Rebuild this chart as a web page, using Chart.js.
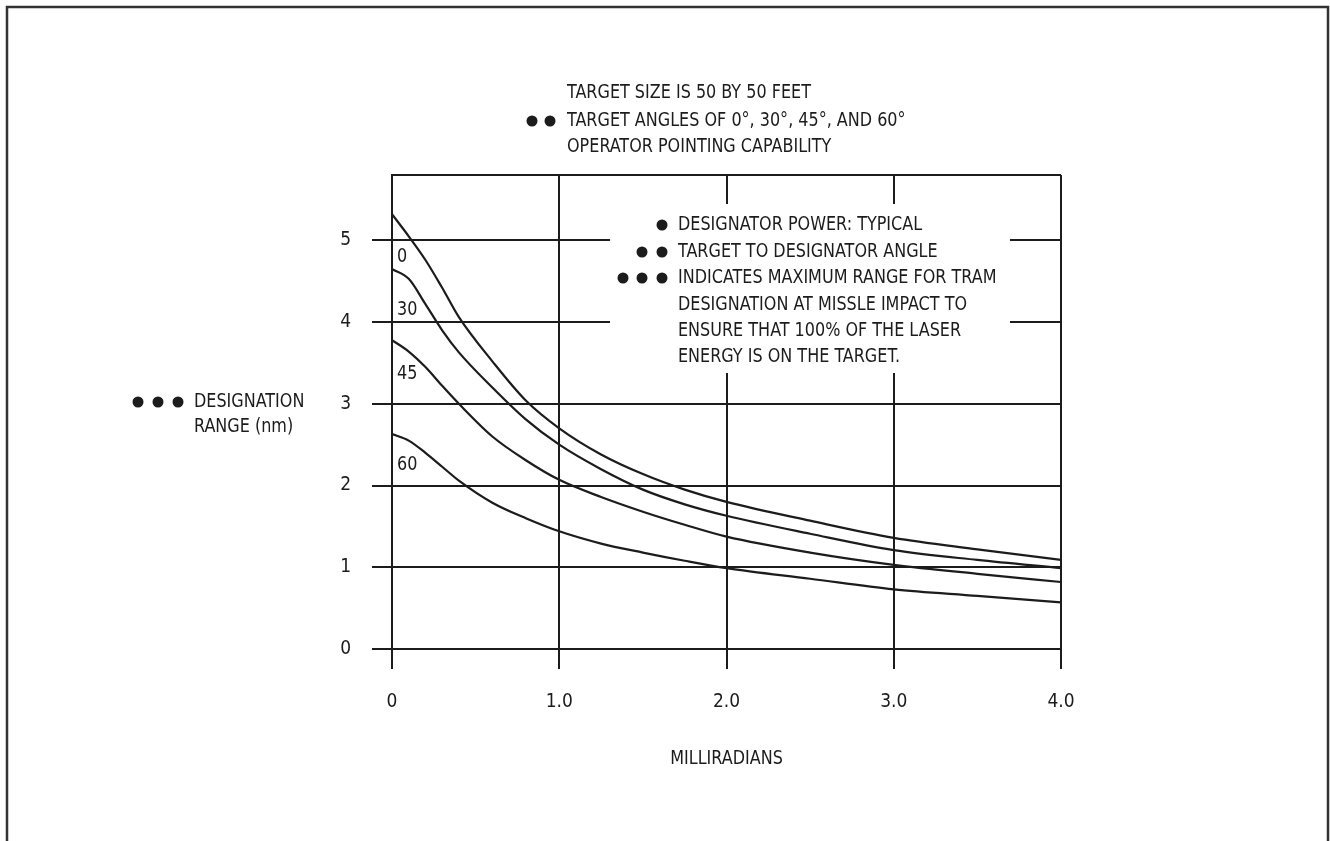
<!DOCTYPE html>
<html>
<head>
<meta charset="utf-8">
<title>Designation range vs milliradians</title>
<script src="https://cdn.jsdelivr.net/npm/chart.js@4.4.1/dist/chart.umd.min.js"></script>
<style>
  html, body { margin: 0; padding: 0; background: #fff; }
  canvas { display: block; }
</style>
</head>
<body>
<canvas id="chartRange" width="1330" height="841"></canvas>
<script>
// milliradians (x) and designation range in nm for each target angle
const milliradians = [0, 0.1, 0.2, 0.3, 0.4, 0.6, 0.8, 1.0, 1.25, 1.5, 1.75, 2.0, 2.5, 3.0, 3.5, 4.0];
const range0  = [5.32, 5.05, 4.76, 4.42, 4.06, 3.52, 3.04, 2.70, 2.38, 2.14, 1.95, 1.80, 1.57, 1.36, 1.22, 1.09];
const range30 = [4.65, 4.53, 4.22, 3.90, 3.63, 3.20, 2.81, 2.50, 2.20, 1.95, 1.77, 1.63, 1.41, 1.21, 1.09, 0.99];
const range45 = [3.78, 3.64, 3.45, 3.22, 3.00, 2.60, 2.31, 2.07, 1.86, 1.68, 1.52, 1.375, 1.18, 1.03, 0.92, 0.82];
const range60 = [2.63, 2.55, 2.40, 2.23, 2.06, 1.79, 1.60, 1.44, 1.29, 1.18, 1.08, 0.99, 0.86, 0.73, 0.65, 0.57];
const angles = ['0', '30', '45', '60'];
const xTickValues = [0, 1, 2, 3, 4];
const yTickValues = [0, 1, 2, 3, 4, 5];

const titleLines = ['TARGET SIZE IS 50 BY 50 FEET', 'TARGET ANGLES OF 0°, 30°, 45°, AND 60°', 'OPERATOR POINTING CAPABILITY'];
const noteLines = ['DESIGNATOR POWER: TYPICAL', 'TARGET TO DESIGNATOR ANGLE', 'INDICATES MAXIMUM RANGE FOR TRAM',
  'DESIGNATION AT MISSLE IMPACT TO', 'ENSURE THAT 100% OF THE LASER', 'ENERGY IS ON THE TARGET.'];

const INK = '#1c1c1c';
const FONT = '"Liberation Sans Narrow", "DejaVu Sans Condensed", "Arial Narrow", sans-serif';

function toPoints(ys) {
  return milliradians.map((x, i) => ({ x: x, y: ys[i] }));
}

function dots(ctx, xs, y) {
  xs.forEach(x => {
    ctx.beginPath();
    ctx.arc(x, y, 5.5, 0, Math.PI * 2);
    ctx.fill();
  });
}

// narrow lettering, like the drafting font of the original
function text(ctx, str, x, y) {
  ctx.save();
  ctx.translate(x, y);
  ctx.scale(0.89, 1);
  ctx.fillText(str, 0, 0);
  ctx.restore();
}

const extras = {
  id: 'extras',
  beforeDatasetsDraw(chart) {
    const { ctx, chartArea: a } = chart;
    ctx.save();
    // white panel behind the notes, cuts the grid lines
    ctx.fillStyle = '#fff';
    ctx.fillRect(610, 204, 400, 169);
    // top edge of plot
    ctx.strokeStyle = INK;
    ctx.lineWidth = 2;
    ctx.beginPath();
    ctx.moveTo(a.left, a.top);
    ctx.lineTo(a.right, a.top);
    ctx.stroke();
    ctx.restore();
  },
  afterDraw(chart) {
    const { ctx, chartArea: a } = chart;
    ctx.save();
    // page frame
    ctx.strokeStyle = '#333';
    ctx.lineWidth = 2.5;
    ctx.beginPath();
    ctx.moveTo(7, 841);
    ctx.lineTo(7, 7);
    ctx.lineTo(1328, 7);
    ctx.lineTo(1328, 841);
    ctx.stroke();

    ctx.fillStyle = INK;
    ctx.font = '20px ' + FONT;
    ctx.textBaseline = 'middle';
    ctx.textAlign = 'left';

    // heading
    [93, 121, 147].forEach((y, i) => text(ctx, titleLines[i], 567, y));
    dots(ctx, [532, 550], 121);

    // notes
    [225, 252, 278, 305, 331, 357].forEach((y, i) => text(ctx, noteLines[i], 678, y));
    dots(ctx, [662], 225);
    dots(ctx, [642, 662], 252);
    dots(ctx, [623, 642, 662], 278);

    // y-axis title
    text(ctx, 'DESIGNATION', 194, 402);
    text(ctx, 'RANGE (nm)', 194, 427);
    dots(ctx, [138, 158, 178], 402);

    // x-axis title
    ctx.textAlign = 'center';
    text(ctx, 'MILLIRADIANS', chart.scales.x.getPixelForValue(2), 759);

    // curve labels
    ctx.textAlign = 'left';
    [257, 310, 374, 465].forEach((y, i) => text(ctx, angles[i], a.left + 5, y));
    ctx.restore();
  }
};

const lineStyle = {
  borderColor: INK,
  borderWidth: 2.2,
  pointRadius: 0,
  fill: false,
  cubicInterpolationMode: 'monotone'
};

new Chart(document.getElementById('chartRange'), {
  type: 'line',
  data: {
    datasets: [range0, range30, range45, range60].map((ys, i) => ({
      label: angles[i],
      data: toPoints(ys),
      ...lineStyle
    }))
  },
  options: {
    responsive: false,
    animation: false,
    events: [],
    layout: { padding: { left: 300, right: 269, top: 175, bottom: 92 } },
    plugins: { legend: { display: false }, tooltip: { enabled: false } },
    scales: {
      x: {
        type: 'linear',
        min: 0,
        max: 4,
        afterFit(scale) { scale.height = 100; },
        afterBuildTicks(scale) { scale.ticks = xTickValues.map(v => ({ value: v })); },
        grid: { color: INK, lineWidth: 2, tickLength: 20, tickColor: INK },
        border: { color: INK, width: 2 },
        ticks: {
          color: INK,
          padding: 22,
          maxRotation: 0,
          font: { family: FONT, size: 19 },
          callback: v => v === 0 ? '0' : v.toFixed(1)
        }
      },
      y: {
        type: 'linear',
        min: 0,
        max: 5.8,
        afterFit(scale) { scale.width = 92; },
        afterBuildTicks(scale) { scale.ticks = yTickValues.map(v => ({ value: v })); },
        grid: { color: INK, lineWidth: 2, tickLength: 20, tickColor: INK },
        border: { color: INK, width: 2 },
        ticks: {
          color: INK,
          padding: 21,
          font: { family: FONT, size: 19 },
          callback: v => String(v)
        }
      }
    }
  },
  plugins: [extras]
});
</script>
</body>
</html>
